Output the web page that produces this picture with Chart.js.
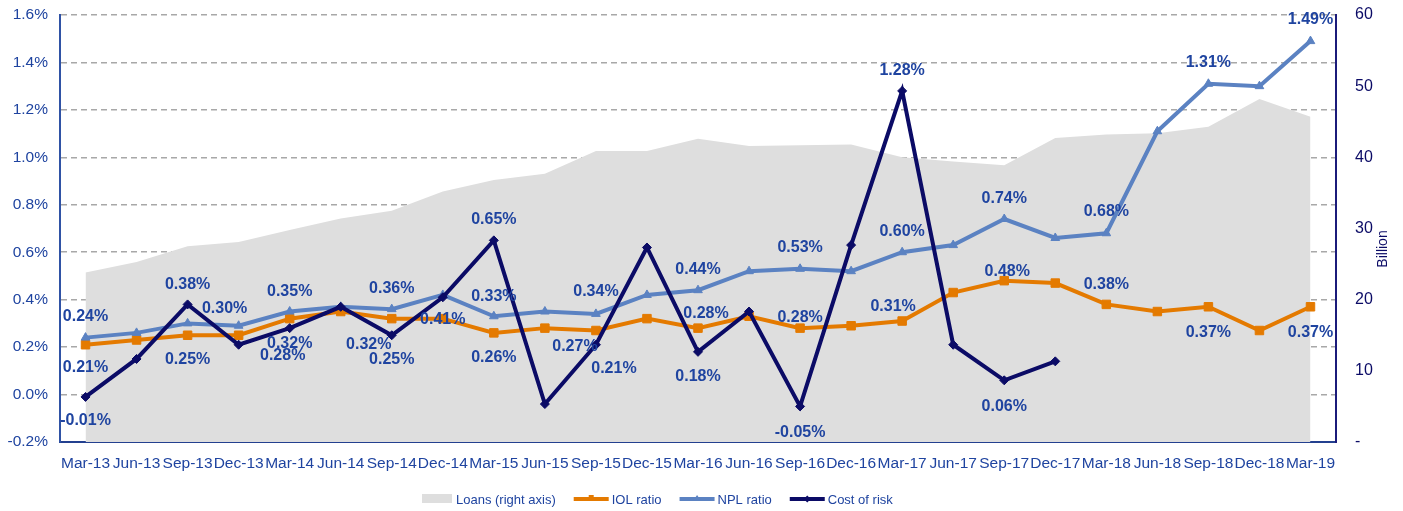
<!DOCTYPE html>
<html lang="en">
<head>
  <meta charset="UTF-8">
  <title>Loans, IOL ratio, NPL ratio and Cost of risk</title>
  <script src="https://cdn.jsdelivr.net/npm/chart.js"></script>
  <style>
    html, body { margin: 0; padding: 0; background: #fff; }
    #wrap { width: 1403px; height: 511px; }
  </style>
</head>
<body>
  <div id="wrap"><canvas id="riskChart" width="1403" height="511"></canvas></div>

  <script>
    // quarters
    const quarters = ['Mar-13', 'Jun-13', 'Sep-13', 'Dec-13', 'Mar-14', 'Jun-14', 'Sep-14', 'Dec-14',
      'Mar-15', 'Jun-15', 'Sep-15', 'Dec-15', 'Mar-16', 'Jun-16', 'Sep-16', 'Dec-16',
      'Mar-17', 'Jun-17', 'Sep-17', 'Dec-17', 'Mar-18', 'Jun-18', 'Sep-18', 'Dec-18', 'Mar-19'];

    // loans, billion (right axis)
    const loans = [23.8, 25.3, 27.5, 28.1, 29.8, 31.4, 32.5, 35.2, 36.8, 37.7, 40.9, 40.9, 42.6,
      41.6, 41.7, 41.8, 40.0, 39.4, 38.9, 42.7, 43.2, 43.4, 44.3, 48.2, 45.7];

    // ratios in %
    const iolRatio = [0.21, 0.23, 0.25, 0.25, 0.32, 0.35, 0.32, 0.32, 0.26, 0.28, 0.27, 0.32, 0.28,
      0.33, 0.28, 0.29, 0.31, 0.43, 0.48, 0.47, 0.38, 0.35, 0.37, 0.27, 0.37];
    const nplRatio = [0.24, 0.26, 0.30, 0.29, 0.35, 0.37, 0.36, 0.42, 0.33, 0.35, 0.34, 0.42, 0.44,
      0.52, 0.53, 0.52, 0.60, 0.63, 0.74, 0.66, 0.68, 1.11, 1.31, 1.30, 1.49];
    const costOfRisk = [-0.01, 0.15, 0.38, 0.21, 0.28, 0.37, 0.25, 0.41, 0.65, -0.04, 0.21, 0.62, 0.18,
      0.35, -0.05, 0.63, 1.28, 0.21, 0.06, 0.14, null, null, null, null, null];

    // axis ticks
    const leftTicks = { min: -0.2, max: 1.6, step: 0.2 };
    const rightTicks = { min: 0, max: 60, step: 10 };

    const FONT = '"Liberation Sans", Arial, sans-serif';
    const BLUE_TXT = '#1F44A0';
    const NAVY = '#0B0B66';

    // which points carry a value label, and where it sits relative to the point
    const valueLabels = [
      // NPL ratio (dataset 2)
      [2, 0, 0, -21], [2, 2, 37, -15], [2, 4, 0, -20], [2, 6, 0, -21], [2, 8, 0, -20],
      [2, 10, 0, -22], [2, 12, 0, -21], [2, 14, 0, -21], [2, 16, 0, -21], [2, 18, 0, -20],
      [2, 20, 0, -22], [2, 22, 0, -21], [2, 24, 0, -22],
      // IOL ratio (dataset 1)
      [1, 0, 0, 23], [1, 2, 0, 24], [1, 4, 0, 25], [1, 6, -23, 26], [1, 8, 0, 25],
      [1, 10, -21, 16], [1, 12, 8, -15], [1, 14, 0, -11], [1, 16, -9, -14], [1, 18, 3, -9],
      [1, 20, 0, -20], [1, 22, 0, 26], [1, 24, 0, 26],
      // Cost of risk (dataset 3)
      [3, 0, 0, 24], [3, 2, 0, -20], [3, 4, -7, 27], [3, 6, 0, 24], [3, 7, 0, 22],
      [3, 8, 0, -21], [3, 10, 18, 24], [3, 12, 0, 25], [3, 14, 0, 26], [3, 16, 0, -20],
      [3, 18, 0, 26]
    ];

    const valueLabelPlugin = {
      id: 'valueLabels',
      afterDatasetsDraw(chart) {
        const ctx = chart.ctx;
        ctx.save();
        ctx.font = 'bold 16px ' + FONT;
        ctx.fillStyle = BLUE_TXT;
        ctx.textAlign = 'center';
        ctx.textBaseline = 'middle';
        valueLabels.forEach(([ds, i, dx, dy]) => {
          const v = chart.data.datasets[ds].data[i];
          const pt = chart.getDatasetMeta(ds).data[i];
          if (v === null || !pt) return;
          ctx.fillText(v.toFixed(2) + '%', pt.x + dx, pt.y + dy);
        });
        ctx.restore();
      }
    };

    // right axis title (reads bottom to top) and the legend row
    const extrasPlugin = {
      id: 'extras',
      afterDraw(chart) {
        const ctx = chart.ctx;
        ctx.save();
        ctx.translate(1383, 249);
        ctx.rotate(-Math.PI / 2);
        ctx.font = '14px ' + FONT;
        ctx.fillStyle = NAVY;
        ctx.textAlign = 'center';
        ctx.textBaseline = 'middle';
        ctx.fillText('Billion', 0, 0);
        ctx.restore();

        ctx.save();
        ctx.font = '13px ' + FONT;
        ctx.textBaseline = 'middle';
        ctx.textAlign = 'left';
        const y = 499;
        let x = 422;
        chart.data.datasets.forEach((ds, i) => {
          if (i === 0) {
            ctx.fillStyle = ds.backgroundColor;
            ctx.fillRect(x, y - 5, 30, 9);
            x += 34;
          } else {
            ctx.strokeStyle = ds.borderColor;
            ctx.lineWidth = 4;
            ctx.beginPath();
            ctx.moveTo(x, y);
            ctx.lineTo(x + 35, y);
            ctx.stroke();
            ctx.fillStyle = ds.borderColor;
            ctx.beginPath();
            if (ds.pointStyle === 'rect') {
              ctx.rect(x + 15, y - 4, 5, 5);
            } else if (ds.pointStyle === 'triangle') {
              ctx.moveTo(x + 17.5, y - 4); ctx.lineTo(x + 21, y + 1); ctx.lineTo(x + 14, y + 1);
            } else {
              ctx.moveTo(x + 17.5, y - 3.5); ctx.lineTo(x + 21, y); ctx.lineTo(x + 17.5, y + 3.5); ctx.lineTo(x + 14, y);
            }
            ctx.fill();
            x += 38;
          }
          ctx.fillStyle = BLUE_TXT;
          ctx.fillText(ds.label, x, y + 1);
          x += ctx.measureText(ds.label).width + 18;
        });
        ctx.restore();
      }
    };

    // keep the plot box fixed: no extra room above/below for the end tick labels
    function fixVertical(width) {
      return function (scale) {
        scale.width = width;
        scale.paddingTop = 0;
        scale.paddingBottom = 0;
      };
    }

    new Chart(document.getElementById('riskChart'), {
      type: 'line',
      data: {
        labels: quarters,
        datasets: [
          {
            label: 'Loans (right axis)',
            data: loans,
            yAxisID: 'y1',
            backgroundColor: '#DEDEDE',
            borderWidth: 0,
            pointRadius: 0,
            fill: 'origin',
            order: 4
          },
          {
            label: 'IOL ratio',
            data: iolRatio,
            yAxisID: 'y',
            borderColor: '#E47A00',
            backgroundColor: '#E47A00',
            borderWidth: 4,
            pointStyle: 'rect',
            pointRadius: 6,
            pointBorderWidth: 1,
            fill: false,
            order: 3
          },
          {
            label: 'NPL ratio',
            data: nplRatio,
            yAxisID: 'y',
            borderColor: '#5B82C2',
            backgroundColor: '#5B82C2',
            borderWidth: 4,
            pointStyle: 'triangle',
            pointRadius: 5,
            pointBorderWidth: 1,
            fill: false,
            order: 2
          },
          {
            label: 'Cost of risk',
            data: costOfRisk,
            yAxisID: 'y',
            borderColor: NAVY,
            backgroundColor: NAVY,
            borderWidth: 4,
            pointStyle: 'rectRot',
            pointRadius: 4.5,
            pointBorderWidth: 1,
            fill: false,
            spanGaps: false,
            order: 1
          }
        ]
      },
      options: {
        responsive: false,
        animation: false,
        layout: { padding: { top: 15, left: 0, right: 0, bottom: 0 } },
        plugins: {
          legend: { display: false },
          tooltip: { enabled: false }
        },
        elements: { line: { tension: 0 } },
        scales: {
          x: {
            offset: true,
            grid: { display: false, drawTicks: false },
            border: { display: true, color: '#23408F', width: 2 },
            ticks: {
              autoSkip: false,
              maxRotation: 0,
              minRotation: 0,
              padding: 12,
              color: BLUE_TXT,
              font: { family: FONT, size: 15.5 }
            },
            afterFit(scale) { scale.height = 69; }
          },
          y: {
            position: 'left',
            min: leftTicks.min,
            max: leftTicks.max,
            grid: {
              drawTicks: false,
              lineWidth: 1.5,
              color: (c) => (c.tick && c.tick.value < leftTicks.min + 0.01) ? 'rgba(0,0,0,0)' : '#A8A8A8'
            },
            border: { display: true, color: '#2F52A5', width: 2, dash: [6, 4] },
            ticks: {
              stepSize: leftTicks.step,
              padding: 12,
              color: BLUE_TXT,
              font: { family: FONT, size: 15.5 },
              callback: (v) => v.toFixed(1) + '%'
            },
            afterFit: fixVertical(60)
          },
          y1: {
            position: 'right',
            min: rightTicks.min,
            max: rightTicks.max,
            grid: { drawOnChartArea: false, drawTicks: false },
            border: { display: true, color: '#1B1B7A', width: 2 },
            ticks: {
              stepSize: rightTicks.step,
              padding: 19,
              color: NAVY,
              font: { family: FONT, size: 16 },
              callback: (v) => v === 0 ? '-' : v
            },
            afterFit: fixVertical(67)
          }
        }
      },
      plugins: [valueLabelPlugin, extrasPlugin]
    });
  </script>
</body>
</html>
